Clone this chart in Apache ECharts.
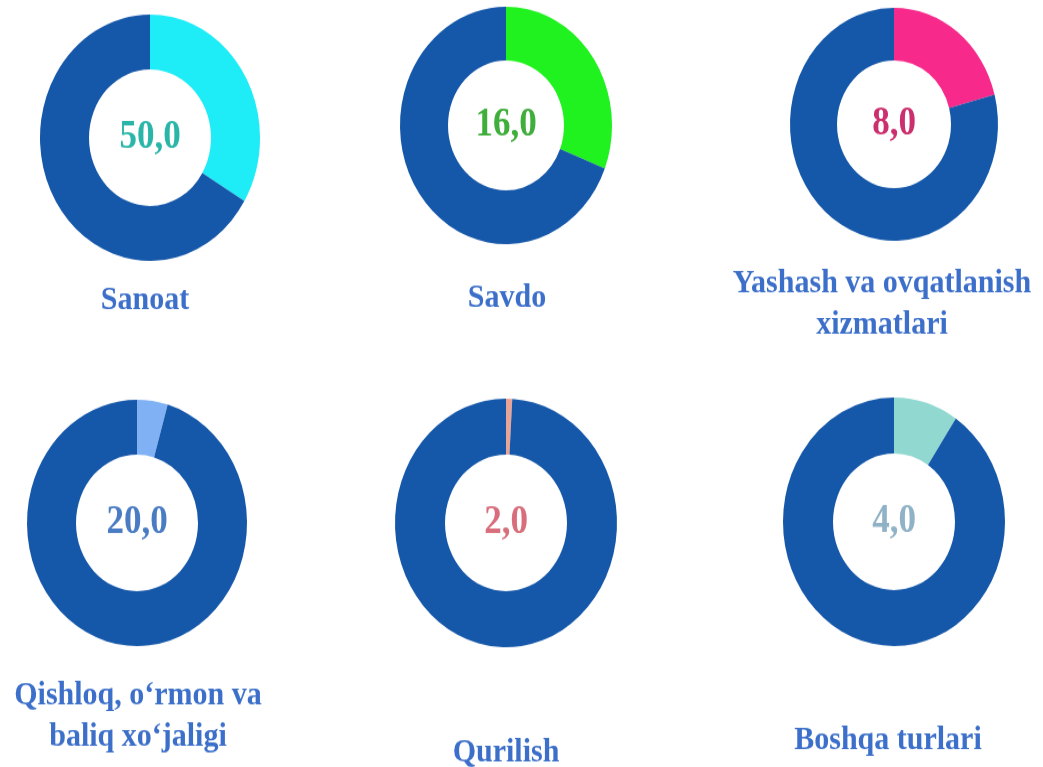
<!DOCTYPE html>
<html>
<head>
<meta charset="utf-8">
<script src="https://cdn.jsdelivr.net/npm/echarts@6/dist/echarts.min.js"></script>
<style>
html, body { margin: 0; padding: 0; background: #fff; }
#wrap { width: 1043px; height: 767px; position: relative; overflow: hidden; }
/* the source picture is stretched vertically, so draw at 685px and stretch */
#main { position: absolute; left: 0; top: 0; width: 1043px; height: 685px; transform: scaleY(1.1197); transform-origin: 0 0; }
</style>
</head>
<body>
<div id="wrap"><div id="main"></div></div>
<script>
// data
var sectors = ["Sanoat", "Savdo", "Yashash va ovqatlanish\nxizmatlari", "Qishloq, o‘rmon va\nbaliq xo‘jaligi", "Qurilish", "Boshqa turlari"];
var centerLabels = ["50,0", "16,0", "8,0", "20,0", "2,0", "4,0"];
var shares = [33.6, 30.9, 20.9, 4.5, 0.9, 9.4];      // coloured slice, %
var restShares = [66.4, 69.1, 79.1, 95.5, 99.1, 90.6]; // dark blue remainder, %

// layout / styles
var centers = [[150, 123], [506, 112], [894, 111], [137, 467], [506, 467], [894, 466]];
var outerR = [110, 106, 104, 110, 111, 111];
var sliceColors = ["#1eecf6", "#1ff21f", "#f72a8c", "#80b1f4", "#e8a597", "#90d8d0"];
var numColors = ["#29b6a8", "#3fae3a", "#cc2f6e", "#4a7cc4", "#d86e7b", "#8fb2c6"];
var labelPos = [[145, 268], [507, 266], [882, 272], [138, 640], [506, 672], [888, 661]];
var restColor = "#1557a9";
var serif = '"Liberation Serif", "Times New Roman", serif';

var series = [];
var graphics = [];
for (var i = 0; i < sectors.length; i++) {
    series.push({
        type: 'pie',
        center: centers[i],
        radius: [Math.round(outerR[i] * 0.55), outerR[i]],
        startAngle: 90,
        clockwise: true,
        silent: true,
        animation: false,
        label: { show: false },
        labelLine: { show: false },
        data: [
            {
                value: shares[i],
                name: sectors[i],
                itemStyle: { color: sliceColors[i] },
                label: {
                    show: true,
                    position: 'center',
                    formatter: centerLabels[i],
                    color: numColors[i],
                    fontSize: 35,
                    fontWeight: 'bold',
                    fontFamily: serif
                }
            },
            { value: restShares[i], name: 'rest', itemStyle: { color: restColor } }
        ]
    });
    graphics.push({
        type: 'text',
        x: labelPos[i][0],
        y: labelPos[i][1],
        style: {
            text: sectors[i],
            fill: "#3b6fc9",
            font: 'bold 30px ' + serif,
            align: 'center',
            verticalAlign: 'middle',
            lineHeight: 37
        }
    });
}

var myChart = echarts.init(document.getElementById("main"));
var option = {
    backgroundColor: '#fff',
    series: series,
    graphic: graphics
};
myChart.setOption(option, true);
</script>
</body>
</html>
